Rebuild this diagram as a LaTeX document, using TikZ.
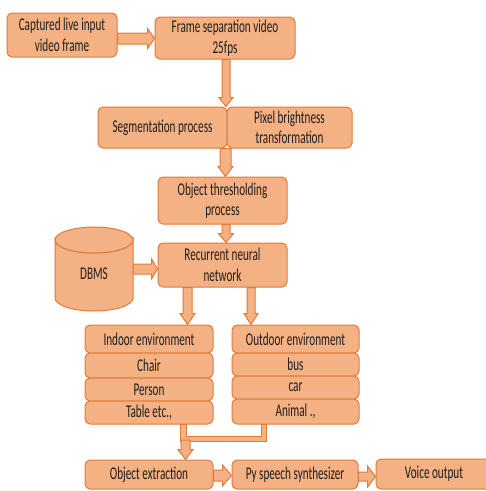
\documentclass[tikz,border=0pt]{standalone}
\usepackage{fontspec}
\setmainfont{Carlito}[FakeStretch=0.62]
\usetikzlibrary{calc,backgrounds}
\definecolor{boxfill}{HTML}{F4B183}
\definecolor{boxline}{HTML}{E07B3C}
\definecolor{txt}{HTML}{1E1E1E}
\tikzset{
  box/.style={draw=boxline, fill=boxfill, line width=1pt, rounded corners=5pt,
    inner sep=0pt, align=center, text=txt, font=\fontsize{18}{20.5}\selectfont},
  blk/.style={draw=boxline, fill=boxfill, line width=1pt, line join=miter},
}
% horizontal block arrow: from, to, y, shaft half, head half, head length
\newcommand\harrow[6]{\filldraw[blk]
  ($(#1 |- 0,#3)+(0,-#4)$) -- ($(#2 |- 0,#3)+(-#6,-#4)$) -- ($(#2 |- 0,#3)+(-#6,-#5)$)
  -- (#2 |- 0,#3) -- ($(#2 |- 0,#3)+(-#6,#5)$) -- ($(#2 |- 0,#3)+(-#6,#4)$)
  -- ($(#1 |- 0,#3)+(0,#4)$) -- cycle;}
% vertical block arrow: from, to, x, shaft half, head half, head length
\newcommand\varrow[6]{\filldraw[blk]
  ($(#3,0 |- #1)+(-#4,0)$) -- ($(#3,0 |- #2)+(-#4,-#6)$) -- ($(#3,0 |- #2)+(-#5,-#6)$)
  -- (#3,0 |- #2) -- ($(#3,0 |- #2)+(#5,-#6)$) -- ($(#3,0 |- #2)+(#4,-#6)$)
  -- ($(#3,0 |- #1)+(#4,0)$) -- cycle;}
\begin{document}
\begin{tikzpicture}[x=1pt,y=-1pt]
\clip (0,0) rectangle (486,491);

% boxes
\node[box, minimum width=110, minimum height=44] (cap) at (62,35) {Captured live input\\video frame};
\node[box, minimum width=140, minimum height=42] (frame) at (225,38) {Frame separation video\\25fps};
\node[box, minimum width=129, minimum height=41] (seg) at (162.5,127.5) {Segmentation process};
\node[box, minimum width=125, minimum height=41] (pix) at (289.5,127.5) {Pixel brightness\\transformation};
\node[box, minimum width=129, minimum height=47] (thr) at (222.5,200.5) {Object thresholding\\process};
\node[box, minimum width=129, minimum height=44] (rnn) at (222.5,265) {Recurrent neural\\network};

% DBMS cylinder
\filldraw[blk] (55,240) -- (55,298) arc[start angle=180, end angle=0, x radius=39, y radius=13]
  -- (133,240) arc[start angle=0, end angle=180, x radius=39, y radius=13] -- cycle;
\filldraw[blk] (94,240) ellipse[x radius=39, y radius=13];
\node[text=txt, font=\fontsize{18}{20.5}\selectfont] (dbms) at (94,274) {DBMS};
\coordinate (dbr) at (133,269);

% indoor column
\node[box, minimum width=128, minimum height=28] (in0) at (149,339) {Indoor environment};
\node[box, minimum width=128, minimum height=25] (in1) at (149,365.5) {Chair};
\node[box, minimum width=128, minimum height=23] (in2) at (149,389.5) {Person};
\node[box, minimum width=128, minimum height=23] (in3) at (149,412.5) {Table etc.,};
% outdoor column
\node[box, minimum width=127, minimum height=28] (out0) at (295.5,339) {Outdoor environment};
\node[box, minimum width=127, minimum height=23] (out1) at (295.5,364.5) {bus};
\node[box, minimum width=127, minimum height=23] (out2) at (295.5,387.5) {car};
\node[box, minimum width=127, minimum height=25] (out3) at (295.5,411.5) {Animal .,};

% bottom row
\node[box, minimum width=128, minimum height=29] (objx) at (149,474.5) {Object extraction};
\node[box, minimum width=126, minimum height=29] (py) at (295,474.5) {Py speech synthesizer};
\node[box, minimum width=116, minimum height=30] (voice) at (434,474) {Voice output};

% merging pipe
\filldraw[blk] (180,0 |- in3.south) -- (180,441) -- (266,441) -- (266,0 |- out3.south)
  -- (261,0 |- out3.south) -- (261,436) -- (186,436) -- (186,0 |- in3.south) -- cycle;
\coordinate (pipeb) at (185.5,440);

\begin{pgfonlayer}{background}
\fill[white] (0,0) rectangle (486,491);
\harrow{cap.east}{frame.west}{38.5}{5.5}{10}{7}
\harrow{dbr}{rnn.west}{269}{5}{10}{6}
\harrow{objx.east}{py.west}{475.5}{5.5}{10.5}{9}
\harrow{py.east}{voice.west}{476.5}{4.5}{10.5}{8}
\varrow{frame.south}{seg.north}{226}{4}{7}{9}
\varrow{seg.south}{thr.north}{225.5}{5.5}{7.5}{10}
\varrow{thr.south}{rnn.north}{226}{4}{7.5}{9}
\varrow{rnn.south}{in0.north}{187.5}{4.5}{7.5}{11}
\varrow{rnn.south}{out0.north}{251}{4}{7}{11}
\end{pgfonlayer}
\varrow{pipeb}{objx.north}{185.5}{4.5}{7.5}{10}
\end{tikzpicture}
\end{document}
